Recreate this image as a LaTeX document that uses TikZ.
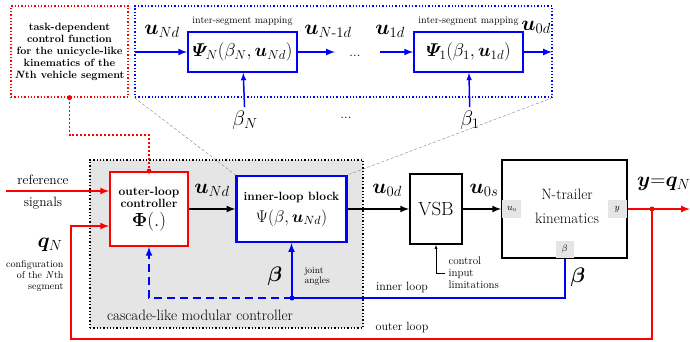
\RequirePackage{fix-cm}
\documentclass[tikz,border=0pt]{standalone}
\usepackage{amsmath}
\usepackage{amssymb}
\usepackage{bm}
\usepackage{tikz}
\usetikzlibrary{positioning, arrows}
\usetikzlibrary{shapes}

\begin{document}
\begin{tikzpicture}[>=latex, x=1pt, y=-1pt,
		blk/.style={draw, line width=1.8pt, fill=white, align=center, inner sep=0pt},
		port/.style={fill=gray!20, inner sep=0pt, minimum width=19pt, minimum height=18pt, font=\fontsize{9.5}{9.5}\selectfont},
		redline/.style={red, line width=2pt},
		blueline/.style={blue, line width=2pt},
		sigline/.style={line width=2pt},
		bigmath/.style={font=\fontsize{21}{23}\selectfont},
		txt/.style={font=\fontsize{13.5}{15}\selectfont},
		smalltxt/.style={font=\fontsize{10}{11}\selectfont}]
	
	\useasboundingbox (0,0) rectangle (690,342);
	
	% cascade controller (grey background)
	\node[draw, dotted, line width=1.3pt, fill=gray!20, minimum width=273pt, minimum height=168pt] (casc) at (226.5,244) {};
	\node[font=\fontsize{15}{17}\selectfont] (casclbl) at (200,315) {cascade-like modular controller};
	
	% top: task box and mapping box
	\node[draw=red, dotted, line width=1.3pt, minimum width=117pt, minimum height=91pt] (taskbox) at (69.5,51.5) {};
	\node[align=center, font=\fontsize{10.6}{12}\selectfont\bfseries] (tasktxt) at (taskbox) {task-dependent\\control function\\for the unicycle-like\\kinematics of the\\\textit{N}th vehicle segment};
	
	\node[draw=blue, dotted, line width=1.3pt, minimum width=417pt, minimum height=91pt] (mapbox) at (343.5,51.5) {};
	
	\node[blk, draw=blue, minimum width=109pt, minimum height=40pt, font=\fontsize{18.5}{20}\selectfont] (psiN) at (242.5,52) {$\bm{\varPsi}_N(\beta_N,\bm{u}_{Nd})$};
	\node[blk, draw=blue, minimum width=109pt, minimum height=40pt, font=\fontsize{18.5}{20}\selectfont] (psi1) at (468.5,52) {$\bm{\varPsi}_1(\beta_1,\bm{u}_{1d})$};
	\node[smalltxt, above=2pt of psiN] (mapN) {inter-segment mapping};
	\node[smalltxt, above=2pt of psi1] (map1) {inter-segment mapping};
	
	\coordinate (mapin) at (135,52);
	\coordinate (mapmidA) at (335,52);
	\coordinate (mapmidB) at (380,52);
	\coordinate (mapout) at (552,52);
	\draw[blueline,->] (mapin) -- (psiN);
	\draw[blueline,->] (psiN) -- (mapmidA);
	\draw[blueline,->] (mapmidB) -- (psi1);
	\draw[blueline,->] (psi1) -- (mapout);
	
	\node[bigmath] (uNd) at (162,31) {$\bm{u}_{Nd}$};
	\node[bigmath] (uN1d) at (328,31) {$\bm{u}_{N\text{-}1d}$};
	\node[bigmath] (u1d) at (390,31) {$\bm{u}_{1d}$};
	\node[bigmath] (u0dtop) at (536,27) {$\bm{u}_{0d}$};
	\node[txt] (dotsA) at (355,56) {...};
	\node[txt] (dotsB) at (346,118) {...};
	
	\node[bigmath] (betaN) at (245,120) {$\beta_N$};
	\node[bigmath] (beta1) at (470,120) {$\beta_1$};
	\draw[blue, line width=1.5pt, ->] (betaN) -- (psiN);
	\draw[blue, line width=1.5pt, ->] (beta1) -- (psi1);
	
	% main loop
	\node[blk, draw=red, minimum width=78pt, minimum height=74pt] (outer) at (149,209) {\fontsize{12}{14}\selectfont\bfseries outer-loop\\\fontsize{12}{14}\selectfont\bfseries controller\\[4pt]\fontsize{19}{20}\selectfont$\bm{\Phi}(.)$};
	\node[blk, draw=blue, line width=2.2pt, minimum width=110pt, minimum height=66pt] (inner) at (291.5,209) {\fontsize{12}{14}\selectfont\bfseries inner-loop block\\[6pt]\fontsize{17}{18}\selectfont$\Psi(\beta, \bm{u}_{Nd})$};
	\node[blk, minimum width=52pt, minimum height=70pt, font=\fontsize{19}{19}\selectfont] (vsb) at (436,209) {VSB};
	\node[blk, minimum width=125pt, minimum height=98pt] (kin) at (564.5,209) {};
	\node[align=center, font=\fontsize{15}{24}\selectfont] (kintxt) at (567,206) {N-trailer\\kinematics};
	\node[port, anchor=west] (pu) at ([xshift=1pt]kin.west) {$u_{\scriptscriptstyle 0}$};
	\node[port, anchor=east] (py) at ([xshift=-1pt]kin.east) {$y$};
	\node[port, anchor=south, minimum width=18pt, minimum height=17pt] (pb) at ([yshift=1pt]kin.south) {$\beta$};
	
	% gray zoom lines
	\draw[gray, densely dashed, thin] (mapbox.south west) -- (inner.north west);
	\draw[gray, densely dashed, thin] (mapbox.south east) -- (inner.north east);
	
	% task box link
	\coordinate (tbend) at (0,135);
	\draw[draw=red, line width=1.2pt, dash pattern=on 2pt off 2pt] (taskbox.south) -- (taskbox.south |- tbend) -| (outer.north);
	\fill[red] (taskbox.south) circle (2.5);
	\fill[red] (outer.north) circle (2.5);
	
	% reference input
	\coordinate (refin) at (6,191);
	\draw[redline,->] (refin) -- (refin -| outer.west);
	\node[txt] (reflbl) at (43,180) {reference};
	\node[txt] (siglbl) at (43,203) {signals};
	
	% forward signals
	\draw[sigline,->] (outer.east) -- (outer.east -| inner.west);
	\draw[sigline,->] (inner.east) -- (inner.east -| vsb.west);
	\draw[sigline,->] (vsb.east) -- (vsb.east -| kin.west);
	\node[bigmath] (uNdmid) at (212,190) {$\bm{u}_{Nd}$};
	\node[bigmath] (u0d) at (387,190) {$\bm{u}_{0d}$};
	\node[bigmath] (u0s) at (484,190) {$\bm{u}_{0s}$};
	
	% control limitations
	\node[align=left, anchor=west, font=\fontsize{11}{12}\selectfont] (limtxt) at (445,273) {control\\input\\limitations};
	\draw[->] (limtxt.west) -| (vsb.south);
	
	% output and outer loop
	\coordinate (yout) at (690,209);
	\coordinate (split) at (652,209);
	\coordinate (qlow) at (71,339);
	\coordinate (qin) at (110,226);
	\draw[redline,->] (kin.east) -- (yout);
	\draw[redline,->] (split) |- (qlow) |- (qin -| outer.west);
	\fill[red] (split) circle (2.5);
	\node[bigmath, anchor=west, inner sep=0pt] (ylbl) at (637,184) {$\bm{y}{=}\bm{q}_N$};
	\node[bigmath] (qN) at (50,245) {$\bm{q}_N$};
	\node[align=right, anchor=east, font=\fontsize{10}{11}\selectfont] (conftxt) at (67,276) {configuration\\of the \textit{N}th\\segment};
	\node[font=\fontsize{12}{13}\selectfont] (outlbl) at (402,327) {outer loop};
	
	% inner loop
	\coordinate (jdot) at (292,298);
	\draw[blueline] (kin.south) |- (jdot);
	\draw[blueline,->] (jdot) -- (inner.south |- jdot) -- (inner.south);
	\draw[blueline, dash pattern=on 8pt off 5pt, ->] (jdot) -| (outer.south);
	\fill[blue] (jdot) circle (2.5);
	\node[bigmath] (betalbl) at (275,276) {$\bm{\beta}$};
	\node[align=left, anchor=west, font=\fontsize{9.5}{10}\selectfont] (jointtxt) at (301,276) {joint\\angles};
	\node[font=\fontsize{12}{13}\selectfont] (inlbl) at (402,287) {inner loop};
	\node[bigmath] (betakin) at (578,277) {$\bm{\beta}$};
\end{tikzpicture}
\end{document}
